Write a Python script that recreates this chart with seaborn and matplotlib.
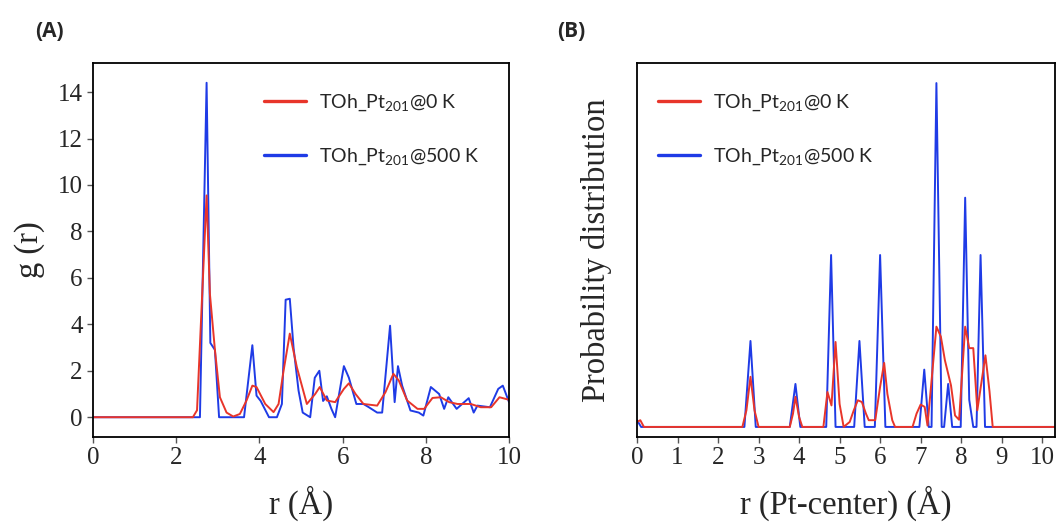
import numpy as np
import pandas as pd
import matplotlib
matplotlib.use("Agg")
import matplotlib.pyplot as plt
import seaborn as sns
from matplotlib.lines import Line2D

# ---------------- Panel A: g(r) ----------------
a_red_x = [0, 2.40, 2.50, 2.73, 2.81, 2.93, 3.05, 3.21, 3.37, 3.53, 3.69, 3.83, 3.93, 4.14, 4.34,
           4.46, 4.58, 4.73, 4.90, 5.14, 5.34, 5.45, 5.62, 5.82, 6.03, 6.15, 6.31, 6.50, 6.83,
           7.03, 7.22, 7.35, 7.55, 7.80, 7.96, 8.16, 8.36, 8.56, 8.76, 9.08, 9.32, 9.57, 9.77, 10.0]
a_red_y = [0, 0, 0.30, 9.55, 5.30, 2.90, 0.86, 0.20, 0.03, 0.14, 0.72, 1.36, 1.30, 0.57, 0.22,
           0.57, 2.00, 3.60, 2.15, 0.57, 1.00, 1.30, 0.72, 0.65, 1.22, 1.46, 1.00, 0.57, 0.50,
           1.08, 1.87, 1.58, 0.72, 0.36, 0.36, 0.83, 0.86, 0.65, 0.57, 0.57, 0.43, 0.43, 0.86, 0.75]

a_blue_x = [0, 2.45, 2.57, 2.73, 2.82, 2.93, 3.03, 3.63, 3.83, 3.93, 4.03, 4.23, 4.42, 4.54, 4.63,
            4.73, 4.82, 4.94, 5.04, 5.22, 5.33, 5.44, 5.53, 5.62, 5.73, 5.82, 6.03, 6.15, 6.33,
            6.50, 6.63, 6.83, 6.95, 7.14, 7.25, 7.33, 7.43, 7.63, 7.83, 7.94, 8.12, 8.32, 8.44,
            8.54, 8.74, 9.03, 9.15, 9.24, 9.54, 9.74, 9.85, 10.0]
a_blue_y = [0, 0, 0, 14.4, 3.20, 2.90, 0, 0, 3.10, 0.93, 0.70, 0, 0, 0.57, 5.06,
            5.10, 3.00, 1.15, 0.20, 0, 1.70, 2.00, 0.70, 0.90, 0.36, 0, 2.20, 1.70, 0.57,
            0.57, 0.43, 0.20, 0.20, 3.94, 0.65, 2.20, 1.36, 0.29, 0.20, 0.07, 1.30, 1.00, 0.36,
            0.86, 0.36, 0.82, 0.20, 0.50, 0.43, 1.22, 1.36, 0.65]

# ---------------- Panel B: probability distribution ----------------
b_red_x = [0, 0.08, 0.17, 2.60, 2.70, 2.80, 2.90, 3.00, 3.77, 3.85, 3.91, 4.00, 4.08,
           4.60, 4.70, 4.80, 4.90, 5.00, 5.10, 5.25, 5.35, 5.45, 5.55, 5.65, 5.72, 5.88,
           6.00, 6.10, 6.18, 6.30, 6.37, 6.80, 6.90, 7.00, 7.10, 7.17, 7.39, 7.50, 7.60,
           7.75, 7.85, 7.95, 8.10, 8.20, 8.30, 8.40, 8.60, 8.70, 8.78, 10.32]
b_red_y = [0.35, 0.47, 0, 0, 1.16, 3.50, 1.16, 0, 0, 0.93, 2.10, 0.70, 0,
           0, 2.44, 1.50, 5.93, 1.60, 0, 0.35, 1.16, 1.86, 1.74, 0.93, 0.47, 0.47,
           2.80, 4.47, 2.30, 0.47, 0, 0, 0.93, 1.56, 1.40, 0.10, 7.00, 6.30, 4.65,
           2.90, 0.80, 0.50, 7.00, 5.50, 5.50, 1.16, 5.00, 2.50, 0, 0]

b_blue_x = [0, 0.10, 2.65, 2.80, 2.93, 3.77, 3.91, 4.03, 4.67, 4.79, 4.90, 5.36, 5.49, 5.62,
            5.87, 6.00, 6.13, 6.97, 7.09, 7.20, 7.27, 7.39, 7.52, 7.58, 7.68, 7.78, 7.99,
            8.10, 8.20, 8.30, 8.38, 8.48, 8.59, 10.32]
b_blue_y = [0.47, 0, 0, 6, 0, 0, 3, 0, 0, 12, 0, 0, 6, 0,
            0, 12, 0, 0, 4, 0, 0, 24, 0, 0, 3, 0, 0,
            16, 1.9, 0, 0, 12, 0, 0]

labels = [r"TOh_Pt$_{201}$@0 K", r"TOh_Pt$_{201}$@500 K"]
RED = "#e8352a"
BLUE = "#1f3be6"

sns.set_theme(style="ticks")
plt.rcParams["font.family"] = ["Liberation Serif", "DejaVu Serif"]
plt.rcParams["mathtext.fontset"] = "custom"
plt.rcParams["mathtext.rm"] = "Lato"
plt.rcParams["mathtext.it"] = "Lato:italic"
plt.rcParams["mathtext.bf"] = "Lato:bold"

fig = plt.figure(figsize=(10.57, 5.23), dpi=100)
axA = fig.add_axes([0.088, 0.1645, 0.3936, 0.715])
axB = fig.add_axes([0.6027, 0.1645, 0.3955, 0.715])

dfA = pd.concat([
    pd.DataFrame({"r": a_blue_x, "g": a_blue_y, "s": labels[1]}),
    pd.DataFrame({"r": a_red_x, "g": a_red_y, "s": labels[0]}),
])
dfB = pd.concat([
    pd.DataFrame({"r": b_blue_x, "p": b_blue_y, "s": labels[1]}),
    pd.DataFrame({"r": b_red_x, "p": b_red_y, "s": labels[0]}),
])
pal = {labels[0]: RED, labels[1]: BLUE}

sns.lineplot(data=dfA, x="r", y="g", hue="s", palette=pal, estimator=None, sort=False,
             linewidth=1.4, ax=axA, legend=False)
sns.lineplot(data=dfB, x="r", y="p", hue="s", palette=pal, estimator=None, sort=False,
             linewidth=1.4, ax=axB, legend=False)

axA.set_xlim(0, 10)
axA.set_ylim(-0.85, 15.25)
axA.set_xticks([0, 2, 4, 6, 8, 10])
axA.set_yticks([0, 2, 4, 6, 8, 10, 12, 14])
axA.set_xlabel("r (Å)", fontsize=23.5, labelpad=12)
axA.set_ylabel("g (r)", fontsize=23.5, labelpad=9)

axB.set_xlim(0, 10.32)
axB.set_ylim(-0.7, 25.4)
axB.set_xticks(list(range(0, 11)))
axB.set_yticks([])
axB.set_xlabel("r (Pt-center) (Å)", fontsize=23.5, labelpad=12)
axB.set_ylabel("Probability distribution", fontsize=23.5, labelpad=18)

for ax, anchor in [(axA, (0.392, 0.942)), (axB, (0.032, 0.942))]:
    for sp in ax.spines.values():
        sp.set_visible(True)
        sp.set_color("black")
        sp.set_linewidth(1.3)
    ax.tick_params(axis="both", labelsize=18, direction="out", length=4, width=1, color="#555555")
    handles = [Line2D([], [], color=RED, lw=2.4), Line2D([], [], color=BLUE, lw=2.4)]
    ax.legend(handles, labels, loc="upper left", bbox_to_anchor=anchor, frameon=False,
              handlelength=2.16, handletextpad=0.67, labelspacing=1.71, borderaxespad=0,
              prop={"family": "Lato", "size": 14})

fig.text(0.033, 0.94, "(A)", fontsize=15, fontweight="bold", family="Open Sans", va="center")
fig.text(0.527, 0.94, "(B)", fontsize=15, fontweight="bold", family="Open Sans", va="center")

fig.savefig("out.png", dpi=100)
